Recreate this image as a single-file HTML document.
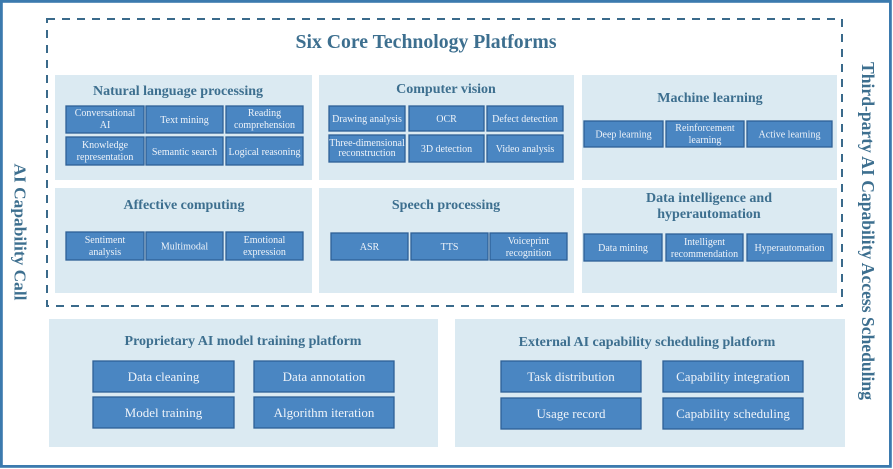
<!DOCTYPE html>
<html><head><meta charset="utf-8"><style>
html,body{margin:0;padding:0;background:#fff;width:893px;height:469px;overflow:hidden}
svg{display:block}
.t{font-family:"Liberation Serif",serif;font-weight:bold;fill:#3d6f8f;text-anchor:middle}
.b{fill:#4a86c2;stroke:#2d6096;stroke-width:1.3}
.s{font-family:"Liberation Serif",serif;fill:#eef3f9;text-anchor:middle;font-size:10px}
.m{font-family:"Liberation Serif",serif;fill:#eef3f9;text-anchor:middle;font-size:13px}
.p{fill:#dbeaf2}
</style></head><body>
<svg width="893" height="469" viewBox="0 0 893 469" xmlns="http://www.w3.org/2000/svg">
<rect x="1.4" y="1.4" width="889" height="465" fill="#fff" stroke="#3b7aae" stroke-width="2.8"/>
<rect x="47" y="19" width="795" height="287" fill="none" stroke="#3a6a8b" stroke-width="2" stroke-dasharray="8 7"/>
<text class="t" x="426" y="48" font-size="19.5" textLength="261" lengthAdjust="spacingAndGlyphs">Six Core Technology Platforms</text>

<!-- panels -->
<rect class="p" x="55" y="75" width="257" height="105"/>
<rect class="p" x="319" y="75" width="255" height="105"/>
<rect class="p" x="582" y="75" width="255" height="105"/>
<rect class="p" x="55" y="188" width="257" height="105"/>
<rect class="p" x="319" y="188" width="255" height="105"/>
<rect class="p" x="582" y="188" width="255" height="105"/>
<rect class="p" x="49" y="319" width="389" height="128"/>
<rect class="p" x="455" y="319" width="390" height="128"/>

<!-- NLP -->
<text class="t" x="178" y="95" font-size="14">Natural language processing</text>
<rect class="b" x="66" y="106" width="78" height="27"/>
<rect class="b" x="146" y="106" width="77" height="27"/>
<rect class="b" x="226" y="106" width="77" height="27"/>
<rect class="b" x="66" y="137" width="78" height="28"/>
<rect class="b" x="146" y="137" width="77" height="28"/>
<rect class="b" x="226" y="137" width="77" height="28"/>
<text class="s" x="105" y="116">Conversational</text><text class="s" x="105" y="128">AI</text>
<text class="s" x="184.5" y="123">Text mining</text>
<text class="s" x="264.5" y="116">Reading</text><text class="s" x="264.5" y="128">comprehension</text>
<text class="s" x="105" y="148">Knowledge</text><text class="s" x="105" y="160">representation</text>
<text class="s" x="184.5" y="155">Semantic search</text>
<text class="s" x="264.5" y="155">Logical reasoning</text>

<!-- CV -->
<text class="t" x="446" y="93" font-size="14">Computer vision</text>
<rect class="b" x="329" y="106" width="76" height="25"/>
<rect class="b" x="409" y="106" width="75" height="25"/>
<rect class="b" x="487" y="106" width="76" height="25"/>
<rect class="b" x="329" y="135" width="76" height="27"/>
<rect class="b" x="409" y="135" width="75" height="27"/>
<rect class="b" x="487" y="135" width="76" height="27"/>
<text class="s" x="367" y="122" font-size="9">Drawing analysis</text>
<text class="s" x="446.5" y="122">OCR</text>
<text class="s" x="525" y="122">Defect detection</text>
<text class="s" x="367" y="146" font-size="9">Three-dimensional</text><text class="s" x="367" y="156" font-size="9">reconstruction</text>
<text class="s" x="446.5" y="152">3D detection</text>
<text class="s" x="525" y="152">Video analysis</text>

<!-- ML -->
<text class="t" x="710" y="102" font-size="14">Machine learning</text>
<rect class="b" x="584" y="121" width="79" height="26"/>
<rect class="b" x="666" y="121" width="78" height="26"/>
<rect class="b" x="747" y="121" width="85" height="26"/>
<text class="s" x="623.5" y="137.5">Deep learning</text>
<text class="s" x="705" y="131">Reinforcement</text><text class="s" x="705" y="143">learning</text>
<text class="s" x="789.5" y="137.5">Active learning</text>

<!-- Affective -->
<text class="t" x="184" y="209" font-size="14">Affective computing</text>
<rect class="b" x="66" y="232" width="78" height="28"/>
<rect class="b" x="146" y="232" width="77" height="28"/>
<rect class="b" x="226" y="232" width="77" height="28"/>
<text class="s" x="105" y="243">Sentiment</text><text class="s" x="105" y="255">analysis</text>
<text class="s" x="184.5" y="249.5">Multimodal</text>
<text class="s" x="264.5" y="243">Emotional</text><text class="s" x="264.5" y="255">expression</text>

<!-- Speech -->
<text class="t" x="446" y="209" font-size="14">Speech processing</text>
<rect class="b" x="331" y="233" width="77" height="27"/>
<rect class="b" x="411" y="233" width="77" height="27"/>
<rect class="b" x="490" y="233" width="77" height="27"/>
<text class="s" x="369.5" y="250">ASR</text>
<text class="s" x="449.5" y="250">TTS</text>
<text class="s" x="528.5" y="244">Voiceprint</text><text class="s" x="528.5" y="256">recognition</text>

<!-- Data intelligence -->
<text class="t" x="709" y="202" font-size="14">Data intelligence and</text>
<text class="t" x="709" y="218" font-size="14">hyperautomation</text>
<rect class="b" x="584" y="234" width="78" height="27"/>
<rect class="b" x="666" y="234" width="77" height="27"/>
<rect class="b" x="747" y="234" width="85" height="27"/>
<text class="s" x="623" y="251">Data mining</text>
<text class="s" x="704.5" y="245">Intelligent</text><text class="s" x="704.5" y="257">recommendation</text>
<text class="s" x="789.5" y="251">Hyperautomation</text>

<!-- Bottom left -->
<text class="t" x="243" y="345" font-size="14">Proprietary AI model training platform</text>
<rect class="b" x="93" y="361" width="141" height="31"/>
<rect class="b" x="254" y="361" width="140" height="31"/>
<rect class="b" x="93" y="397" width="141" height="31"/>
<rect class="b" x="254" y="397" width="140" height="31"/>
<text class="m" x="163.5" y="381">Data cleaning</text>
<text class="m" x="324" y="381">Data annotation</text>
<text class="m" x="163.5" y="417">Model training</text>
<text class="m" x="324" y="417">Algorithm iteration</text>

<!-- Bottom right -->
<text class="t" x="647" y="346" font-size="14">External AI capability scheduling platform</text>
<rect class="b" x="501" y="361" width="140" height="31"/>
<rect class="b" x="663" y="361" width="140" height="31"/>
<rect class="b" x="501" y="398" width="140" height="31"/>
<rect class="b" x="663" y="398" width="140" height="31"/>
<text class="m" x="571" y="381">Task distribution</text>
<text class="m" x="733" y="381">Capability integration</text>
<text class="m" x="571" y="418">Usage record</text>
<text class="m" x="733" y="418">Capability scheduling</text>

<!-- vertical labels -->
<text class="t" font-size="17" transform="translate(20 232) rotate(90)" dominant-baseline="central" textLength="137" lengthAdjust="spacingAndGlyphs">AI Capability Call</text>
<text class="t" font-size="17.5" transform="translate(868 231) rotate(90)" dominant-baseline="central" textLength="338" lengthAdjust="spacingAndGlyphs">Third-party AI Capability Access Scheduling</text>
</svg>
</body></html>
